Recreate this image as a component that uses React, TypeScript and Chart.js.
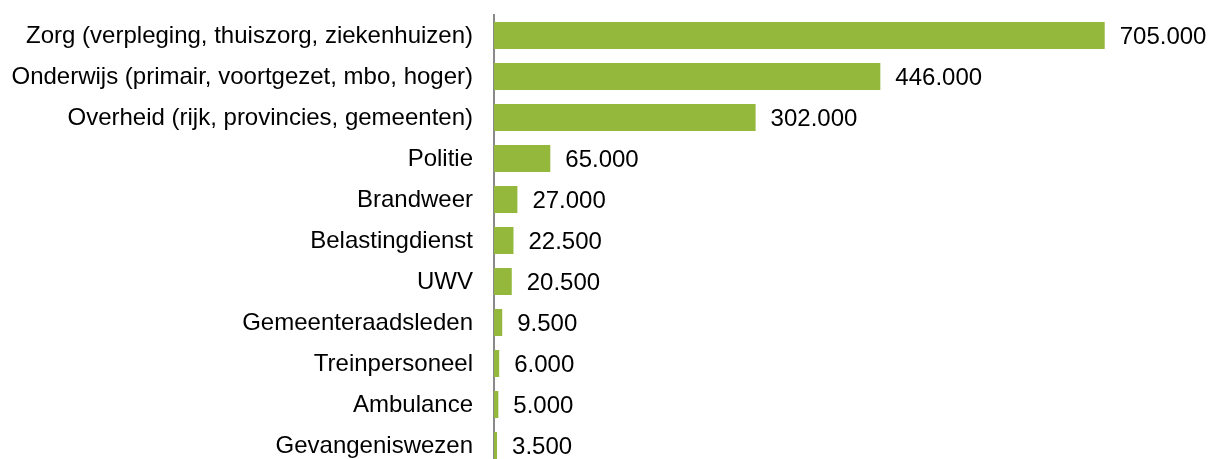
import React, { useEffect, useRef } from "react";
import { Chart, registerables } from "chart.js";

Chart.register(...registerables);

const categories = [
  "Zorg (verpleging, thuiszorg, ziekenhuizen)",
  "Onderwijs (primair, voortgezet, mbo, hoger)",
  "Overheid (rijk, provincies, gemeenten)",
  "Politie",
  "Brandweer",
  "Belastingdienst",
  "UWV",
  "Gemeenteraadsleden",
  "Treinpersoneel",
  "Ambulance",
  "Gevangeniswezen",
];

const values = [705000, 446000, 302000, 65000, 27000, 22500, 20500, 9500, 6000, 5000, 3500];

const FONT = "'Liberation Sans', Arial, Helvetica, sans-serif";
const BAR_COLOR = "#93b83b";

function formatNL(v: number): string {
  const s = Math.round(v).toString();
  return s.replace(/\B(?=(\d{3})+(?!\d))/g, ".");
}

const valueLabelPlugin = {
  id: "valueLabels",
  afterDatasetsDraw(chart: any) {
    const ctx = chart.ctx;
    const meta = chart.getDatasetMeta(0);
    ctx.save();
    ctx.font = `24px ${FONT}`;
    ctx.fillStyle = "#000";
    ctx.textAlign = "left";
    ctx.textBaseline = "middle";
    meta.data.forEach((bar: any, i: number) => {
      ctx.fillText(formatNL(values[i]), bar.x + 15, bar.y + 1.5);
    });
    ctx.restore();
  },
};

export default function App() {
  const ref = useRef<HTMLCanvasElement | null>(null);
  useEffect(() => {
    document.body.style.margin = "0";
    document.body.style.overflow = "hidden";
    const canvas = ref.current!;
    const chart = new Chart(canvas, {
      type: "bar",
      data: {
        labels: categories,
        datasets: [
          {
            data: values,
            backgroundColor: BAR_COLOR,
            borderWidth: 0,
            categoryPercentage: 1,
            barPercentage: 0.66,
          },
        ],
      },
      options: {
        indexAxis: "y",
        animation: false,
        responsive: false,
        maintainAspectRatio: false,
        layout: { padding: { top: 15, bottom: 9, left: 0, right: 24 } },
        plugins: {
          legend: { display: false },
          tooltip: { enabled: false },
          title: { display: false },
        },
        scales: {
          x: { display: false, min: 0, max: 800000 },
          y: {
            afterFit(scale: any) {
              scale.width = 494;
              scale.paddingTop = 0;
              scale.paddingBottom = 0;
            },
            grid: { display: false, drawTicks: false },
            border: { display: true, color: "#898989", width: 2 },
            ticks: {
              color: "#000",
              padding: 21,
              labelOffset: 1,
              font: { family: FONT, size: 24 },
            },
          },
        },
      },
      plugins: [valueLabelPlugin],
    });
    return () => chart.destroy();
  }, []);
  return (
    <div style={{ position: "relative", width: 1211, height: 475 }}>
      <canvas ref={ref} width={1211} height={475} style={{ display: "block" }} />
    </div>
  );
}
